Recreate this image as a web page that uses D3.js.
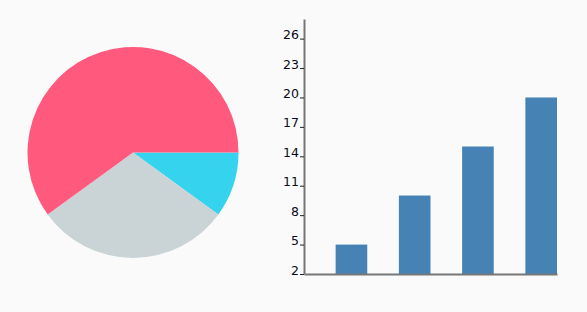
<!DOCTYPE html>
<html>
<head>
<meta charset="utf-8">
<script src="https://cdnjs.cloudflare.com/ajax/libs/d3/7.8.5/d3.min.js"></script>
<style>
    html, body { margin: 0; padding: 0; background: #fafafa; }
    .axis text { font-family: "DejaVu Sans", Verdana, sans-serif; font-size: 12.5px; fill: #0a0a1a; }
    .axis .domain { stroke: #777; stroke-width: 2; }
    .axis .tick line { stroke: #222; }
</style>
</head>
<body>
<div id="chart"></div>
<script>
(function () {
    'use strict';

    // pie data (clockwise from 3 o'clock)
    var pieLabels = ['A', 'B', 'C'];
    var pieValues = [10, 30, 60];
    var pieColors = ['#36d3ee', '#cad3d6', '#ff5a7e'];

    // bar data
    var barCategories = ['a', 'b', 'c', 'd'];
    var barValues = [5, 10, 15, 20];
    var yTicks = [2, 5, 8, 11, 14, 17, 20, 23, 26];

    var width = 587,
        height = 312;

    var svg = d3.select('#chart')
        .append('svg')
        .attr('width', width)
        .attr('height', height);

    // ---- pie ----
    var radius = 105.5;
    var pie = d3.pie()
        .sort(null)
        .startAngle(Math.PI / 2)
        .endAngle(Math.PI / 2 + 2 * Math.PI)
        .value(function (d) { return d; });

    var arc = d3.arc().innerRadius(0).outerRadius(radius);

    var pieG = svg.append('g')
        .attr('transform', 'translate(133,152.5)');

    pieG.selectAll('path')
        .data(pie(pieValues))
        .enter().append('path')
        .attr('d', arc)
        .attr('fill', function (d, i) { return pieColors[i]; });

    // ---- bars ----
    var chart = { left: 304, right: 557, top: 19, bottom: 274 };

    var x = d3.scaleBand()
        .domain(barCategories)
        .range([chart.left, chart.right])
        .paddingInner(0.5)
        .paddingOuter(0.25)
        .align(1);

    var y = d3.scaleLinear()
        .domain([2, 28])
        .range([chart.bottom, chart.top]);

    svg.append('g')
        .selectAll('rect')
        .data(barValues)
        .enter().append('rect')
        .attr('x', function (d, i) { return x(barCategories[i]); })
        .attr('y', function (d) { return y(d); })
        .attr('width', x.bandwidth())
        .attr('height', function (d) { return y(2) - y(d); })
        .attr('fill', '#4682b4');

    var yAxis = svg.append('g')
        .attr('class', 'axis')
        .attr('transform', 'translate(' + chart.left + ',0)')
        .call(d3.axisLeft(y).tickValues(yTicks).tickSize(4).tickSizeOuter(0).tickPadding(1));
    yAxis.selectAll('.tick text').attr('dy', '0');

    var xAxis = svg.append('g')
        .attr('class', 'axis')
        .attr('transform', 'translate(0,' + chart.bottom + ')')
        .call(d3.axisBottom(x).tickSize(0).tickSizeOuter(0).tickFormat(''));
})();
</script>
</body>
</html>
